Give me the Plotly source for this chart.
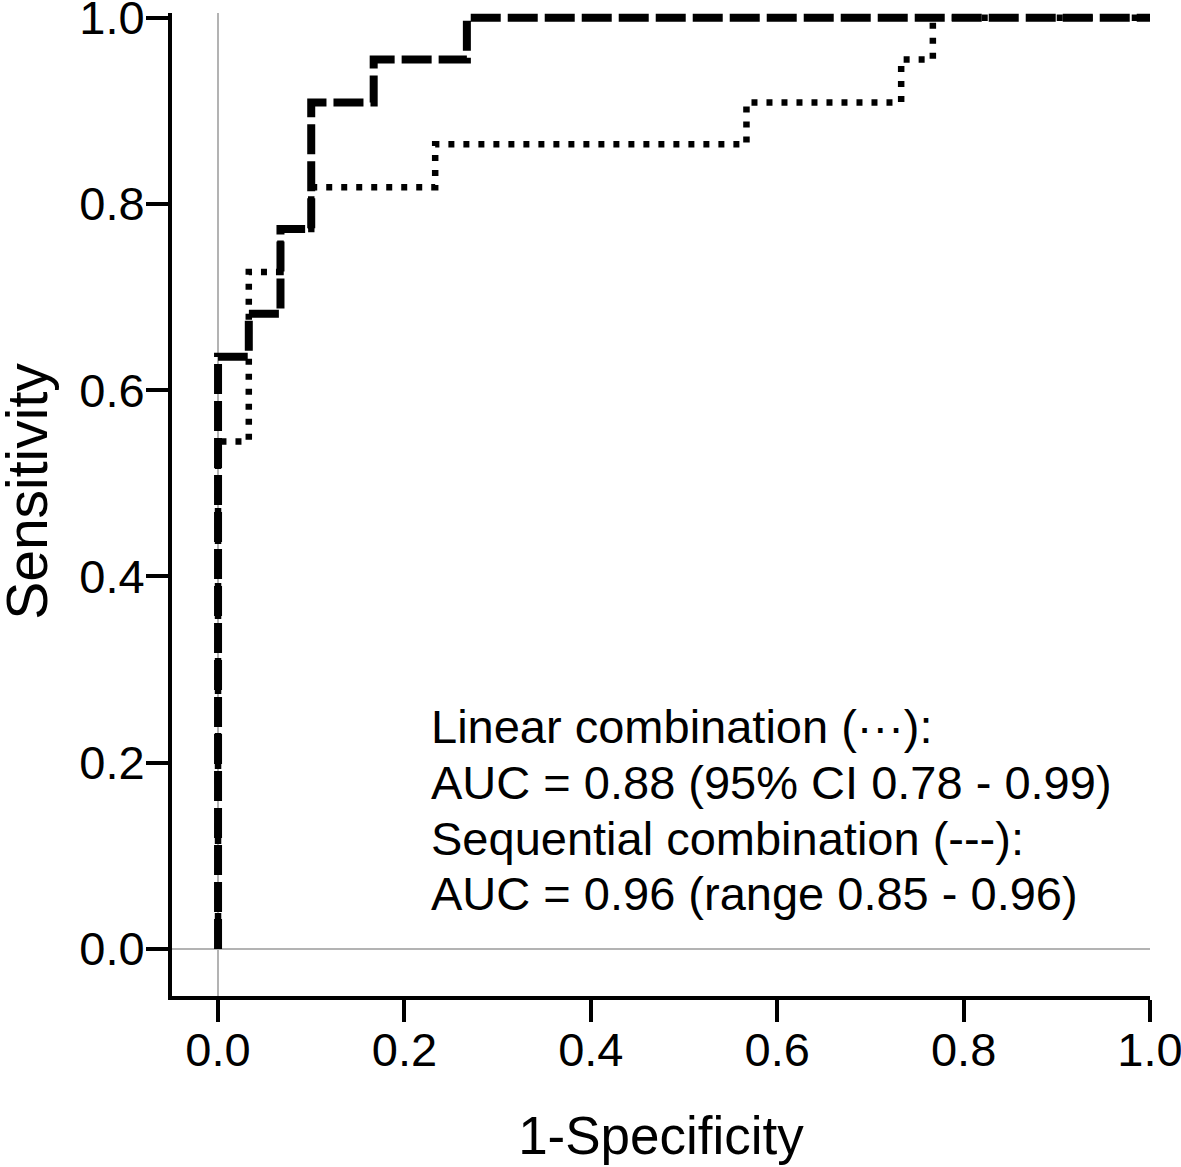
import plotly.graph_objects as go

# Sequential combination (dashed) ROC step points
seq_fpr = [0.0, 0.0, 0.033, 0.067, 0.100, 0.167, 0.267, 1.0]
seq_tpr = [0.0, 0.636, 0.682, 0.773, 0.909, 0.955, 1.0, 1.0]

# Linear combination (dotted) ROC step points
lin_fpr = [0.0, 0.0, 0.033, 0.067, 0.100, 0.233, 0.567, 0.733, 0.767, 1.0]
lin_tpr = [0.0, 0.545, 0.727, 0.773, 0.818, 0.864, 0.909, 0.955, 1.0, 1.0]

tick_vals = [0.0, 0.2, 0.4, 0.6, 0.8, 1.0]
tick_text = ["0.0", "0.2", "0.4", "0.6", "0.8", "1.0"]

legend_lines = [
    "Linear combination (\u00b7\u00b7\u00b7):",
    "AUC = 0.88 (95% CI 0.78 - 0.99)",
    "Sequential combination (---):",
    "AUC = 0.96 (range 0.85 - 0.96)",
]
legend_y = [0.2385, 0.179, 0.119, 0.060]

FONT = "Liberation Sans, Arial, Helvetica, sans-serif"

fig = go.Figure()
fig.add_trace(go.Scatter(
    x=lin_fpr, y=lin_tpr, mode="lines", line_shape="hv",
    line=dict(color="black", width=6.5, dash="6px,9px"),
    showlegend=False, hoverinfo="skip"))
fig.add_trace(go.Scatter(
    x=seq_fpr, y=seq_tpr, mode="lines", line_shape="hv",
    line=dict(color="black", width=8, dash="30px,7px"),
    showlegend=False, hoverinfo="skip"))

for txt, yy in zip(legend_lines, legend_y):
    fig.add_annotation(x=0.2265, y=yy, xref="x", yref="y", text=txt,
                       showarrow=False, xanchor="left", yanchor="middle",
                       font=dict(family=FONT, size=47, color="black"))

# y-axis title as rotated annotation
fig.add_annotation(x=0, y=0.5129, xref="paper", yref="paper", text="Sensitivity",
                   textangle=-90, showarrow=False, xanchor="center", yanchor="middle",
                   xshift=-145, font=dict(family=FONT, size=57, color="black"))

axis_common = dict(
    showgrid=False, showline=True, linecolor="black", linewidth=4,
    ticks="outside", ticklen=22, tickwidth=4, tickcolor="black",
    zeroline=True, zerolinecolor="#b3b3b3", zerolinewidth=2,
    tickvals=tick_vals, ticktext=tick_text,
    tickfont=dict(family=FONT, size=47, color="black"),
    automargin=False, ticklabeloverflow="allow",
)

fig.update_layout(
    width=1181, height=1167,
    margin=dict(l=172, r=31, t=13, b=171),
    plot_bgcolor="white", paper_bgcolor="white",
    xaxis=dict(range=[-0.0494, 1.0], ticklabelstandoff=-12,
               title=dict(text="1-Specificity", font=dict(family=FONT, size=53, color="black"), standoff=42),
               **axis_common),
    yaxis=dict(range=[-0.0505, 1.005], ticklabelstandoff=-8,
               **axis_common),
)

fig.write_html("out.html", config={"displayModeBar": False},
               post_script="document.body.style.margin='0';")
